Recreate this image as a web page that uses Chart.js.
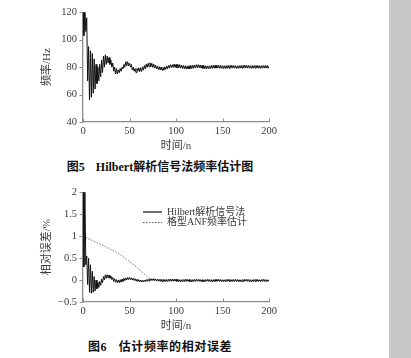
<!DOCTYPE html>
<html><head><meta charset="utf-8">
<script src="https://cdn.jsdelivr.net/npm/chart.js@4/dist/chart.umd.min.js"></script>
<style>
html,body{margin:0;padding:0;background:#fff;}
body{width:411px;height:358px;position:relative;overflow:hidden;}
#side{position:absolute;left:389px;top:0;width:22px;height:358px;background:#c8c8c8;}
.wrap{position:absolute;left:0;width:290px;height:155px;}
#w1{top:0;}
#w2{top:180px;}
.cap{position:absolute;left:0;width:320px;text-align:center;font-family:"Liberation Serif","Noto Sans CJK SC",serif;font-weight:bold;font-size:12px;line-height:14px;color:#111;white-space:nowrap;}
#cap1{top:160px;word-spacing:8px;}
#cap2{top:340px;word-spacing:8px;letter-spacing:0.6px;}
</style>
</head><body>
<div id="side"></div>
<div class="wrap" id="w1"><canvas id="c1" width="290" height="155"></canvas></div>
<div class="cap" id="cap1">图5 Hilbert解析信号法频率估计图</div>
<div class="wrap" id="w2"><canvas id="c2" width="290" height="155"></canvas></div>
<div class="cap" id="cap2">图6 估计频率的相对误差</div>
<script>
// ---------- data ----------
const xTickLabels = ['0', '50', '100', '150', '200'];
const yTickLabels1 = ['40', '60', '80', '100', '120'];
const yTickLabels2 = ['\u22120.5', '0', '0.5', '1', '1.5', '2'];
const seriesNames = ['Hilbert解析信号法', '格型ANF频率估计'];
const xTitle = '时间/n';
const yTitle1 = '频率/Hz';
const yTitle2 = '相对误差/%';

// Fig.5: Hilbert frequency estimate, n = 0..200
const freqHilbert = [
 125,103,124,106,116,70,95,56,92,58,
 90,61,86,64,82,68,80,70,82,73,
 85,76,88,80,89,82,88,83,87,82,
 85,80,83,77,80,75,79,75,78,76,
 79,77,80,79,82,80,84,81,84,81,
 83,80,82,78,80,77,79,76,79,77,
 79.5,76.8,79.5,76.8,80.2,77.8,81.2,78.8,82.2,79.8,
 82.8,80.2,83.2,80.3,82.8,79.8,82.2,79.3,81.6,78.8,
 80.8,78.3,80.3,77.9,80.1,77.8,79.8,77.8,80.2,78.3,
 80.8,78.8,81.3,79.3,81.8,79.8,81.8,79.8,82.2,79.8,
 82,79.6,82,79.5,81.8,79.3,81.5,79,81.2,78.8,
 81,78.6,80.8,78.6,81,78.8,81.2,79,81.4,79.2,
 81.6,79.4,81.8,79.6,81.8,79.5,81.6,79.3,81.4,79,
 81.1,78.9,81,78.8,80.9,78.8,81,79,81.2,79.1,
 81.3,79.2,81.4,79.3,81.4,79.3,81.3,79.2,81.2,79.1,
 81.1,79,81,79,81.1,79.1,81.2,79.2,81.3,79.3,
 81.3,79.3,81.2,79.2,81.1,79.1,81,79.1,81.1,79.2,
 81.2,79.3,81.3,79.4,81.4,79.4,81.3,79.3,81.2,79.2,
 81.1,79.1,81.1,79.2,81.2,79.3,81.3,79.3,81.2,79.2,
 81.1,79.1,81.1,79.2,81.2,79.3,81.3,79.3,81.2,79.2,
 80.8
];

// Fig.6: relative error of Hilbert method, n = 0..200
const errHilbert = [
 2.5,0.3,2.2,0.35,0.55,-0.1,0.5,-0.28,0.35,-0.3,
 0.2,-0.28,0.08,-0.25,0.0,-0.2,-0.05,-0.17,-0.03,-0.12,
 0.02,-0.06,0.08,0.0,0.12,0.04,0.12,0.05,0.11,0.04,
 0.09,0.01,0.06,-0.03,0.03,-0.05,0.01,-0.06,0.0,-0.06,
 0.01,-0.05,0.02,-0.03,0.04,-0.01,0.05,0.0,0.06,0.01,
 0.06,0.01,0.05,0.0,0.04,-0.01,0.03,-0.02,0.02,-0.03,
 0.01,-0.04,0.0,-0.045,0.0,-0.045,0.0,-0.035,0.01,-0.03,
 0.02,-0.02,0.03,-0.01,0.03,-0.01,0.03,-0.015,0.02,-0.02,
 0.02,-0.025,0.015,-0.03,0.015,-0.035,0.01,-0.035,0.01,-0.035,
 0.01,-0.03,0.015,-0.03,0.015,-0.025,0.02,-0.025,0.02,-0.025,
 0.015,-0.03,0.01,-0.035,0.005,-0.04,0.005,-0.04,0.01,-0.035,
 0.015,-0.03,0.015,-0.03,0.01,-0.035,0.005,-0.04,0.005,-0.035,
 0.01,-0.03,0.015,-0.025,0.015,-0.03,0.01,-0.035,0.005,-0.04,
 0.005,-0.035,0.01,-0.03,0.015,-0.03,0.01,-0.035,0.005,-0.04,
 0.005,-0.035,0.01,-0.03,0.015,-0.025,0.015,-0.03,0.01,-0.035,
 0.005,-0.04,0.005,-0.035,0.01,-0.03,0.015,-0.03,0.01,-0.035,
 0.005,-0.035,0.01,-0.03,0.015,-0.03,0.01,-0.035,0.005,-0.04,
 0.005,-0.035,0.01,-0.03,0.015,-0.025,0.015,-0.03,0.01,-0.035,
 0.005,-0.04,0.005,-0.035,0.01,-0.03,0.015,-0.03,0.01,-0.035,
 0.005,-0.035,0.01,-0.03,0.015,-0.03,0.01,-0.035,0.005,-0.03,
 0.0
];

// Fig.6: relative error of lattice ANF (sampled at anfN)
const anfN   = [0,5,10,15,20,25,30,35,40,45,50,55,60,65,70,73,76,80,85,90,95,100,110,120,130,140,150,160,170,180,190,200];
const errANF = [1.0,0.95,0.9,0.85,0.8,0.75,0.695,0.64,0.58,0.505,0.42,0.34,0.25,0.155,0.06,0.01,0.02,0.012,0.005,0.012,0.0,0.008,0.0,0.006,-0.004,0.004,-0.004,0.004,-0.006,0.002,-0.004,0.0];

// ---------- rendering ----------
const timeN = Array.from({length: freqHilbert.length}, (_, i) => i);
const SERIF = '"Liberation Serif", "Noto Sans CJK SC", serif';
const AXIS_COLOR = '#8c8c8c';
const TEXT_COLOR = '#3a3a3a';

const tickMarks = {
  id: 'tickMarks',
  afterDraw(chart) {
    const {ctx, chartArea: a, scales: {x, y}} = chart;
    ctx.save();
    ctx.strokeStyle = AXIS_COLOR;
    ctx.lineWidth = 1;
    x.ticks.forEach(t => {
      const px = Math.round(x.getPixelForValue(t.value)) + 0.5;
      ctx.beginPath(); ctx.moveTo(px, a.bottom); ctx.lineTo(px, a.bottom - 3.5); ctx.stroke();
    });
    y.ticks.forEach(t => {
      const py = Math.round(y.getPixelForValue(t.value)) + 0.5;
      ctx.beginPath(); ctx.moveTo(a.left, py); ctx.lineTo(a.left - 3.5, py); ctx.stroke();
    });
    ctx.restore();
  }
};

const legendBox = {
  id: 'legendBox',
  afterDraw(chart, args, opts) {
    if (!opts.show) return;
    const {ctx} = chart;
    ctx.save();
    ctx.font = '10px ' + SERIF;
    ctx.textBaseline = 'middle';
    ctx.fillStyle = TEXT_COLOR;
    chart.data.datasets.forEach((ds, i) => {
      const yy = opts.y + i * opts.gap;
      ctx.strokeStyle = ds.borderColor;
      ctx.lineWidth = ds.borderWidth + 0.2;
      ctx.setLineDash(ds.borderDash || []);
      ctx.beginPath(); ctx.moveTo(opts.x, yy); ctx.lineTo(opts.x + 19, yy); ctx.stroke();
      ctx.setLineDash([]);
      ctx.fillText(ds.label, opts.x + 24, yy);
    });
    ctx.restore();
  }
};

function axes(yMin, yMax, yStep, yLabels, yTitleText) {
  return {
    x: {
      type: 'linear', min: 0, max: 200,
      ticks: { stepSize: 50, padding: 3, color: TEXT_COLOR, font: {family: SERIF, size: 10.5},
               maxRotation: 0, callback: (v, i) => xTickLabels[i] },
      grid: { display: false, drawTicks: false },
      border: { display: true, color: AXIS_COLOR, width: 1.3 },
      title: { display: true, text: xTitle, color: TEXT_COLOR, font: {family: SERIF, size: 11}, padding: {top: 0, bottom: 2} },
      afterFit: s => { s.height = 33; }
    },
    y: {
      type: 'linear', min: yMin, max: yMax,
      ticks: { stepSize: yStep, padding: 6, color: TEXT_COLOR, font: {family: SERIF, size: 10.5},
               callback: (v, i) => yLabels[i] },
      grid: { display: false, drawTicks: false },
      border: { display: true, color: AXIS_COLOR, width: 1.3 },
      title: { display: true, text: yTitleText, color: TEXT_COLOR, font: {family: SERIF, size: 11}, padding: {top: 41, bottom: 0} },
      afterFit: s => { s.width = 83; }
    }
  };
}

new Chart(document.getElementById('c1'), {
  type: 'line',
  data: {
    datasets: [{
      label: seriesNames[0],
      data: freqHilbert.map((v, i) => ({x: timeN[i], y: v})),
      borderColor: '#111', borderWidth: 1, pointRadius: 0, tension: 0, fill: false
    }]
  },
  options: {
    responsive: false, animation: false,
    layout: { padding: {top: 10, right: 21, left: 0, bottom: 0} },
    plugins: { legend: {display: false}, tooltip: {enabled: false}, legendBox: {show: false} },
    scales: axes(40, 120, 20, yTickLabels1, yTitle1)
  },
  plugins: [tickMarks, legendBox]
});

new Chart(document.getElementById('c2'), {
  type: 'line',
  data: {
    datasets: [{
      label: seriesNames[0],
      data: errHilbert.map((v, i) => ({x: timeN[i], y: v})),
      borderColor: '#111', borderWidth: 1, pointRadius: 0, tension: 0, fill: false
    }, {
      label: seriesNames[1],
      data: errANF.map((v, i) => ({x: anfN[i], y: v})),
      borderColor: '#555', borderWidth: 0.8, borderDash: [1.5, 1.5], pointRadius: 0, tension: 0.3, fill: false
    }]
  },
  options: {
    responsive: false, animation: false,
    layout: { padding: {top: 12, right: 21, left: 0, bottom: 0} },
    plugins: { legend: {display: false}, tooltip: {enabled: false}, legendBox: {show: true, x: 143, y: 32, gap: 10.5} },
    scales: axes(-0.5, 2, 0.5, yTickLabels2, yTitle2)
  },
  plugins: [tickMarks, legendBox]
});
</script>
</body></html>
